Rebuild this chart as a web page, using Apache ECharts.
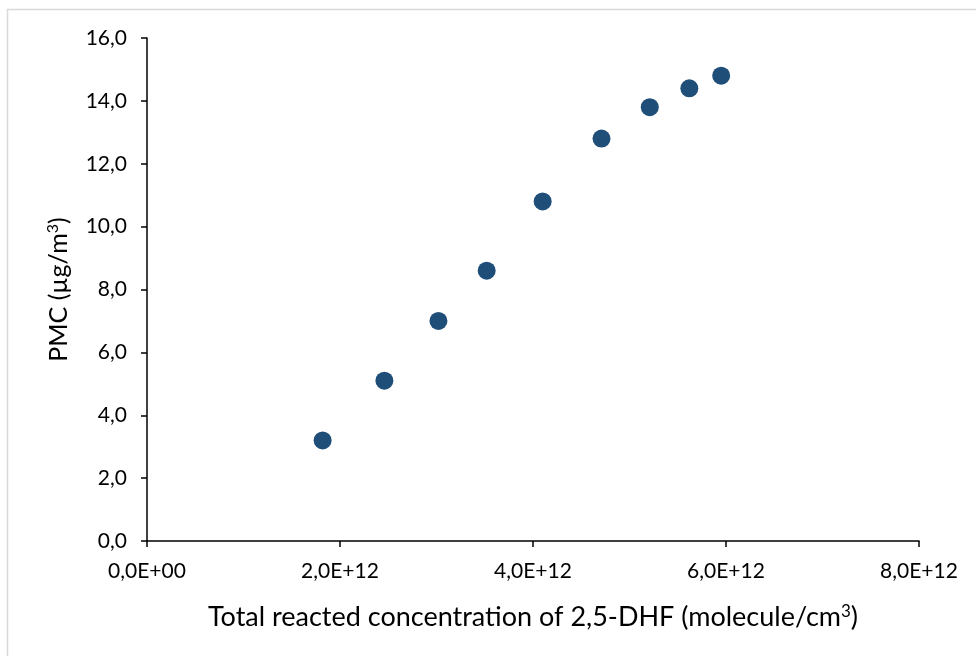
<!DOCTYPE html>
<html>
<head>
<meta charset="utf-8">
<script src="https://cdn.jsdelivr.net/npm/echarts@6/dist/echarts.min.js"></script>
<style>
  html, body { margin: 0; padding: 0; background: #fff; }
  #chart { width: 976px; height: 656px; }
</style>
</head>
<body>
<div id="chart"></div>
<script>
// total reacted 2,5-DHF (molecule/cm3) and PMC (ug/m3)
const reacted = [1.82e12, 2.46e12, 3.02e12, 3.52e12, 4.10e12, 4.71e12, 5.21e12, 5.62e12, 5.95e12];
const pmc = [3.2, 5.1, 7.0, 8.6, 10.8, 12.8, 13.8, 14.4, 14.8];

const xTitle = 'Total reacted concentration of 2,5-DHF (molecule/cm{sup|3})';
const yTitle = 'PMC (µg/m{sup|3})';

const font = 'Lato, "Open Sans", sans-serif';

const chart = echarts.init(document.getElementById('chart'));

// comma as decimal separator, like the original
function sci(v) {
  if (v === 0) return '0,0E+00';
  const e = Math.floor(Math.log10(Math.abs(v)));
  const m = (v / Math.pow(10, e)).toFixed(1).replace('.', ',');
  return m + 'E+' + String(e).padStart(2, '0');
}

chart.setOption({
  animation: false,
  graphic: [{
    type: 'rect',
    shape: { x: 7.5, y: 9.5, width: 975, height: 660 },
    style: { fill: 'none', stroke: '#d9d9d9', lineWidth: 1.5 },
    silent: true
  }],
  grid: { left: 147, right: 57, top: 38, bottom: 115 },
  xAxis: {
    type: 'value',
    min: 0,
    max: 8e12,
    interval: 2e12,
    splitLine: { show: false },
    axisLine: { lineStyle: { color: '#000', width: 1.5 } },
    axisTick: { show: true, length: 6, lineStyle: { color: '#000', width: 1.5 } },
    axisLabel: {
      color: '#000', fontFamily: font, fontSize: 21, margin: 20,
      formatter: sci
    },
    name: xTitle,
    nameLocation: 'middle',
    nameGap: 62,
    nameTextStyle: {
      color: '#000', fontFamily: font, fontSize: 27,
      rich: { sup: { fontSize: 17, verticalAlign: 'top', padding: [0, 0, 12, 0], fontFamily: font, color: '#000' } }
    }
  },
  yAxis: {
    type: 'value',
    min: 0,
    max: 16,
    interval: 2,
    splitLine: { show: false },
    axisLine: { show: true, lineStyle: { color: '#000', width: 1.5 } },
    axisTick: { show: true, length: 6, lineStyle: { color: '#000', width: 1.5 } },
    axisLabel: {
      color: '#000', fontFamily: font, fontSize: 21, margin: 20,
      formatter: v => v.toFixed(1).replace('.', ',')
    },
    name: yTitle,
    nameLocation: 'middle',
    nameGap: 74,
    nameTextStyle: {
      color: '#000', fontFamily: font, fontSize: 25,
      rich: { sup: { fontSize: 16, verticalAlign: 'top', padding: [0, 0, 12, 0], fontFamily: font, color: '#000' } }
    }
  },
  series: [{
    type: 'scatter',
    symbol: 'circle',
    symbolSize: 18,
    itemStyle: { color: '#1f4e79', opacity: 1 },
    data: reacted.map((x, i) => [x, pmc[i]])
  }]
});
</script>
</body>
</html>
